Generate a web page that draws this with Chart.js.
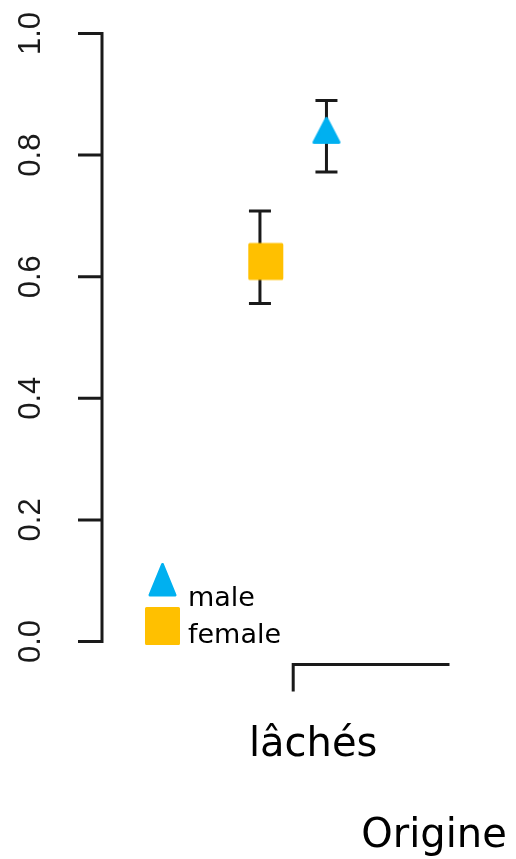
<!doctype html>
<html lang="fr">
<head>
<meta charset="utf-8" />
<title>Origine</title>
<script src="https://cdn.jsdelivr.net/npm/chart.js@4.4.1/dist/chart.umd.min.js"></script>
<style>
  *{box-sizing:border-box;margin:0;padding:0}
  html,body{background:#fff}
  #wrap{width:516px;height:859px;position:relative}
</style>
</head>
<body>
<div id="wrap"><canvas id="chart" width="516" height="859"></canvas></div>
<script>
/* ---- data ---- */
const groups     = ['female', 'male'];
const means      = [0.625, 0.835];
const lower      = [0.556, 0.772];
const upper      = [0.708, 0.890];
const categories = ['lâchés'];
const yTicks     = [0, 0.2, 0.4, 0.6, 0.8, 1.0];
const yTickText  = ['0.0', '0.2', '0.4', '0.6', '0.8', '1.0'];
const xTitle     = 'Origine';

/* ---- style ---- */
const colors  = ['#FFC000', '#00B0F0'];
const dodge   = [-0.2, 0.2];     // offset of each group around its category
const ink     = '#1a1a1a';

/* point symbols drawn once onto small canvases */
function squareSymbol(color){
  const c = document.createElement('canvas');
  c.width = 48; c.height = 40;
  const g = c.getContext('2d');
  g.fillStyle = g.strokeStyle = color;
  g.lineWidth = 3; g.lineJoin = 'round';
  g.beginPath(); g.rect(13.8, 3, 32, 34); g.fill(); g.stroke();
  return c;
}
function triangleSymbol(color){
  const c = document.createElement('canvas');
  c.width = 30; c.height = 36;
  const g = c.getContext('2d');
  g.fillStyle = g.strokeStyle = color;
  g.lineWidth = 3; g.lineJoin = 'round';
  g.beginPath();
  g.moveTo(15, 2.5); g.lineTo(27.5, 26.5); g.lineTo(2.5, 26.5); g.closePath();
  g.fill(); g.stroke();
  return c;
}
const symbols = [squareSymbol(colors[0]), triangleSymbol(colors[1])];

/* ---- error bars (under the points) ---- */
const errorBars = {
  id: 'errorBars',
  beforeDatasetsDraw(chart){
    const {ctx, scales:{x, y}} = chart;
    ctx.save();
    ctx.strokeStyle = ink; ctx.lineWidth = 3; ctx.lineCap = 'butt';
    groups.forEach((g, i) => {
      const px = x.getPixelForValue(1 + dodge[i]);
      const y0 = y.getPixelForValue(lower[i]), y1 = y.getPixelForValue(upper[i]);
      ctx.beginPath();
      ctx.moveTo(px, y0); ctx.lineTo(px, y1);
      ctx.moveTo(px - 11, y0); ctx.lineTo(px + 11, y0);
      ctx.moveTo(px - 11, y1); ctx.lineTo(px + 11, y1);
      ctx.stroke();
    });
    ctx.restore();
  }
};

/* ---- R-style axes, titles and legend ---- */
const rAxes = {
  id: 'rAxes',
  afterDraw(chart){
    const {ctx, chartArea:a, scales:{x, y}} = chart;
    ctx.save();
    ctx.strokeStyle = ink; ctx.lineWidth = 3; ctx.lineCap = 'butt';

    // y axis
    ctx.beginPath();
    ctx.moveTo(a.left, y.getPixelForValue(yTicks[0]));
    ctx.lineTo(a.left, y.getPixelForValue(yTicks[yTicks.length - 1]));
    yTicks.forEach(t => {
      const py = y.getPixelForValue(t);
      ctx.moveTo(a.left - 24, py); ctx.lineTo(a.left + 1.5, py);
    });
    ctx.stroke();

    ctx.fillStyle = ink;
    ctx.font = '31px "Liberation Sans", Arial, sans-serif';
    ctx.textAlign = 'center'; ctx.textBaseline = 'middle';
    yTicks.forEach((t, i) => {
      ctx.save();
      ctx.translate(31, y.getPixelForValue(t));
      ctx.rotate(-Math.PI / 2);
      ctx.fillText(yTickText[i], 0, 0);
      ctx.restore();
    });

    // x axis
    const ax = y.getPixelForValue(-0.038);
    const tx = x.getPixelForValue(1);
    ctx.beginPath();
    ctx.moveTo(tx, ax + 27); ctx.lineTo(tx, ax); ctx.lineTo(x.getPixelForValue(1.94), ax);
    ctx.stroke();

    ctx.fillStyle = '#000';
    ctx.font = '40px "DejaVu Sans", Verdana, sans-serif';
    ctx.textBaseline = 'alphabetic';
    ctx.fillText(categories[0], tx + 20, 756);
    ctx.fillText(xTitle, 434, 847);

    // legend
    ctx.fillStyle = colors[1]; ctx.strokeStyle = colors[1];
    ctx.lineJoin = 'round'; ctx.lineWidth = 3;
    ctx.beginPath();
    ctx.moveTo(162.5, 564.5); ctx.lineTo(175, 595); ctx.lineTo(150, 595); ctx.closePath();
    ctx.fill(); ctx.stroke();
    ctx.fillStyle = colors[0]; ctx.strokeStyle = colors[0];
    ctx.beginPath(); ctx.rect(146.5, 608.5, 32, 35); ctx.fill(); ctx.stroke();

    ctx.fillStyle = '#000';
    ctx.font = '27px "DejaVu Sans", Verdana, sans-serif';
    ctx.textAlign = 'left';
    ctx.fillText(groups[1], 188, 606);
    ctx.fillText(groups[0], 188, 643);
    ctx.restore();
  }
};

new Chart(document.getElementById('chart'), {
  type: 'scatter',
  data: {
    datasets: groups.map((g, i) => ({
      label: g,
      data: [{x: 1 + dodge[i], y: means[i]}],
      pointStyle: symbols[i],
      backgroundColor: colors[i],
      borderColor: colors[i]
    }))
  },
  options: {
    responsive: false,
    animation: false,
    events: [],
    layout: {autoPadding: false, padding: {left: 102, right: 0, top: 33.5, bottom: 217.5}},
    scales: {
      x: {type: 'linear', min: -0.15, max: 2.34, display: false},
      y: {type: 'linear', min: 0, max: 1, display: false}
    },
    plugins: {legend: {display: false}, tooltip: {enabled: false}}
  },
  plugins: [errorBars, rAxes]
});
</script>
</body>
</html>
